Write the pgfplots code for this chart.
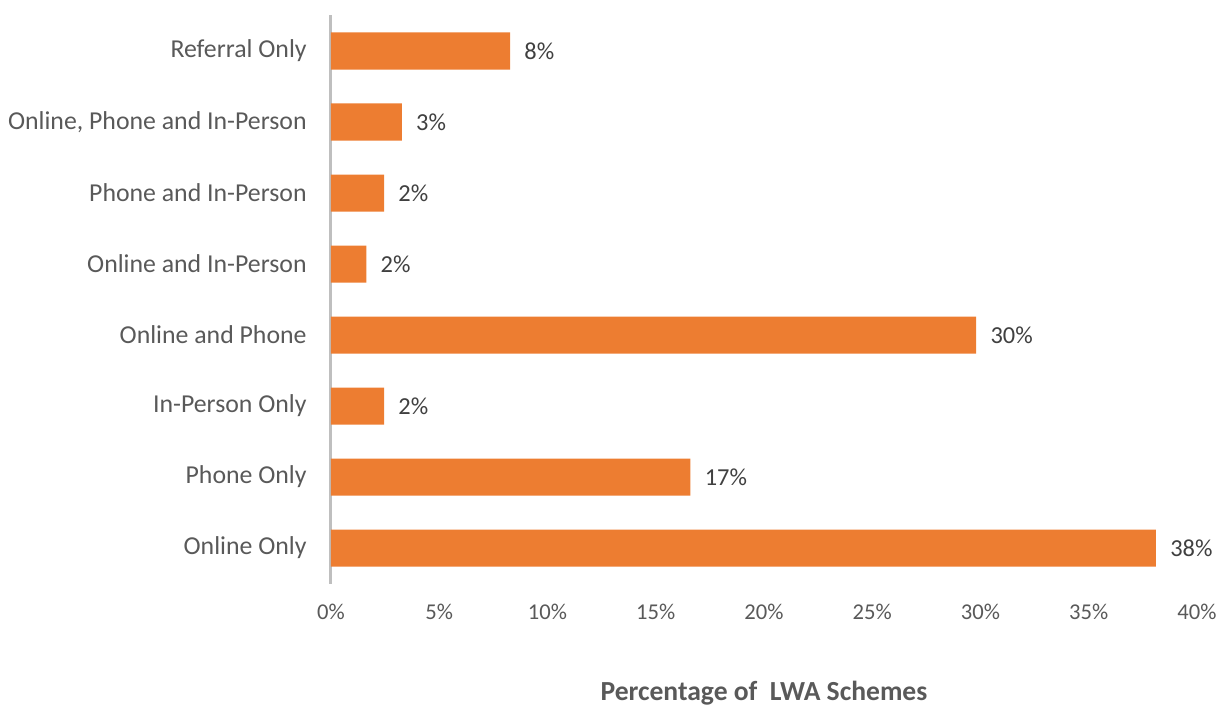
\documentclass[border=0pt]{standalone}
\usepackage{fontspec}
\setmainfont{Carlito}
\usepackage{pgfplots}
\usepackage{pgfplotstable}
\pgfplotsset{compat=1.18}
\definecolor{barorange}{HTML}{ED7D31}
\definecolor{txtgray}{HTML}{595959}
\definecolor{lblgray}{HTML}{404040}
\definecolor{axgray}{HTML}{BFBFBF}
\pgfplotstableread{
y x lab
0 38.1 38\%
1 16.6 17\%
2 2.45 2\%
3 29.8 30\%
4 1.63 2\%
5 2.45 2\%
6 3.27 3\%
7 8.27 8\%
}\datatab
\begin{document}
\begin{tikzpicture}
\useasboundingbox (-165.5pt,-61.25pt) rectangle (444pt,291.75pt);
\begin{axis}[
  at={(0,0)}, anchor=south west,
  scale only axis, width=433pt, height=284pt,
  xbar, bar width=18.5pt,
  xmin=0, xmax=40, ymin=-0.5, ymax=7.5,
  xtick={0,5,...,40},
  xticklabel={\pgfmathprintnumber{\tick}\%},
  /pgf/number format/assume math mode=true,
  ytick={0,...,7},
  yticklabels={Online Only, Phone Only, In-Person Only, Online and Phone, Online and In-Person, Phone and In-Person, {Online, Phone and In-Person}, Referral Only},
  major tick length=0pt,
  axis lines*=left,
  x axis line style={draw=none},
  y axis line style={draw=axgray, line width=1.5pt},
  xticklabel style={anchor=center, yshift=-14.25pt, font=\fontsize{11.3}{13}\selectfont, text=txtgray},
  yticklabel style={anchor=east, inner sep=0pt, xshift=-12pt, font=\fontsize{12.9}{15}\selectfont, text=txtgray},
  xlabel={Percentage of\ \ LWA Schemes},
  xlabel style={at={(axis description cs:0.5,0)}, anchor=center, yshift=-54.75pt, font=\fontsize{13.8}{16}\selectfont\bfseries, text=txtgray},
  nodes near coords,
  point meta=explicit symbolic,
  every node near coord/.append style={anchor=west, inner sep=0pt, xshift=7pt, font=\fontsize{12.2}{14}\selectfont, text=lblgray},
  clip=false,
]
\addplot[fill=barorange, draw=none] table[x=x, y=y, meta=lab] {\datatab};
\end{axis}
\end{tikzpicture}
\end{document}
